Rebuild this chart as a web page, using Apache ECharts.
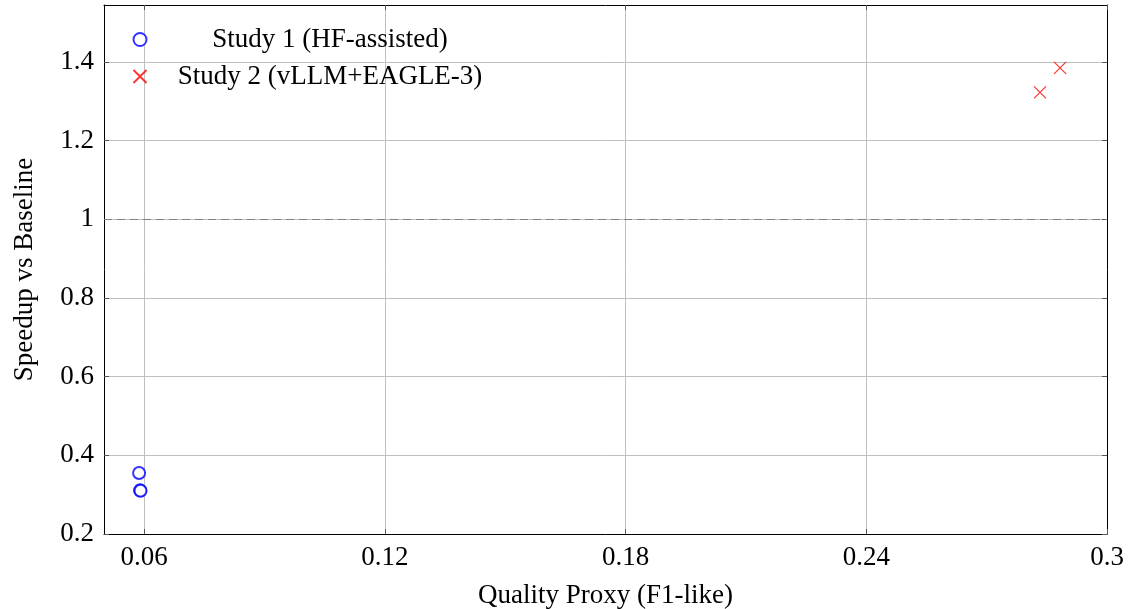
<!DOCTYPE html>
<html>
<head>
<meta charset="utf-8">
<script src="https://cdn.jsdelivr.net/npm/echarts@6/dist/echarts.min.js"></script>
<style>html,body{margin:0;padding:0;background:#fff}#c{width:1129px;height:609px}</style>
</head>
<body>
<div id="c"></div>
<script>
const seriesNames = ['Study 1 (HF-assisted)', 'Study 2 (vLLM+EAGLE-3)'];
const study1 = [[0.05875, 0.355], [0.0590, 0.311], [0.0591, 0.310]];
const study2 = [[0.2833, 1.323], [0.2883, 1.385]];
const baselineY = 1;
const xTicks = [0.06, 0.12, 0.18, 0.24, 0.3];
const yTicks = [0.2, 0.4, 0.6, 0.8, 1, 1.2, 1.4];
const xTitle = 'Quality Proxy (F1-like)';
const yTitle = 'Speedup vs Baseline';

const FONT = 'Liberation Serif';
const FS = 27;
const crossPath = 'path://M0,0L10,10M10,0L0,10';

const chart = echarts.init(document.getElementById('c'), null, {renderer: 'canvas'});
const gridLine = {show: true, lineStyle: {color: '#bfbfbf', width: 1}};
const xCommon = {type: 'value', min: 0.05, max: 0.3};
const yCommon = {type: 'value', min: 0.2, max: 1.545};
const tickStyle = {color: '#555', width: 1};

chart.setOption({
  animation: false,
  grid: {left: 104, right: 22, top: 5, bottom: 75, containLabel: false, outerBoundsMode: 'none'},
  legend: {
    orient: 'vertical', left: 126, top: 21, itemGap: 10, itemWidth: 14, itemHeight: 13,
    data: [
      {name: seriesNames[0], icon: 'emptyCircle'},
      {name: seriesNames[1], icon: crossPath}
    ],
    formatter: n => '{a|' + n + '}',
    textStyle: {fontFamily: FONT, fontSize: FS, color: '#000',
      rich: {a: {width: 356, align: 'center', fontFamily: FONT, fontSize: FS, color: '#000'}}}
  },
  xAxis: [
    Object.assign({}, xCommon, {
      position: 'bottom',
      name: xTitle, nameLocation: 'middle', nameGap: 48,
      nameTextStyle: {fontFamily: FONT, fontSize: FS, color: '#000'},
      axisLine: {show: true, onZero: false, lineStyle: {color: '#000', width: 1}},
      axisTick: {show: true, inside: true, length: 5, customValues: xTicks, lineStyle: tickStyle},
      axisLabel: {fontFamily: FONT, fontSize: FS, color: '#000', margin: 10,
        customValues: xTicks, formatter: v => String(+(+v).toFixed(2))},
      splitLine: gridLine
    }),
    Object.assign({}, xCommon, {
      position: 'top',
      axisLine: {show: true, onZero: false, lineStyle: {color: '#000', width: 1}},
      axisTick: {show: true, inside: true, length: 5, customValues: xTicks, lineStyle: tickStyle},
      axisLabel: {show: false, customValues: xTicks}, splitLine: {show: false}
    })
  ],
  yAxis: [
    Object.assign({}, yCommon, {
      position: 'left',
      name: yTitle, nameLocation: 'middle', nameGap: 66, nameRotate: 90,
      nameTextStyle: {fontFamily: FONT, fontSize: FS, color: '#000'},
      axisLine: {show: true, onZero: false, lineStyle: {color: '#000', width: 1}},
      axisTick: {show: true, inside: true, length: 5, customValues: yTicks, lineStyle: tickStyle},
      axisLabel: {fontFamily: FONT, fontSize: FS, color: '#000', margin: 10,
        customValues: yTicks, formatter: v => String(+(+v).toFixed(1))},
      splitLine: gridLine
    }),
    Object.assign({}, yCommon, {
      position: 'right',
      axisLine: {show: true, onZero: false, lineStyle: {color: '#000', width: 1}},
      axisTick: {show: true, inside: true, length: 5, customValues: yTicks, lineStyle: tickStyle},
      axisLabel: {show: false, customValues: yTicks}, splitLine: {show: false}
    })
  ],
  series: [
    {
      name: seriesNames[0], type: 'scatter', data: study1,
      symbol: 'emptyCircle', symbolSize: 12,
      itemStyle: {color: '#0000ff', borderColor: '#0000ff', borderWidth: 1.2},
      markLine: {
        silent: true, symbol: ['none', 'none'], label: {show: false},
        lineStyle: {color: '#808080', type: [8, 5], width: 1},
        data: [{yAxis: baselineY}]
      },
      z: 3
    },
    {
      name: seriesNames[1], type: 'scatter', data: study2,
      symbol: crossPath, symbolSize: 12,
      itemStyle: {color: 'none', borderColor: '#ff0000', borderWidth: 1.2},
      z: 3
    }
  ]
});
</script>
</body>
</html>
